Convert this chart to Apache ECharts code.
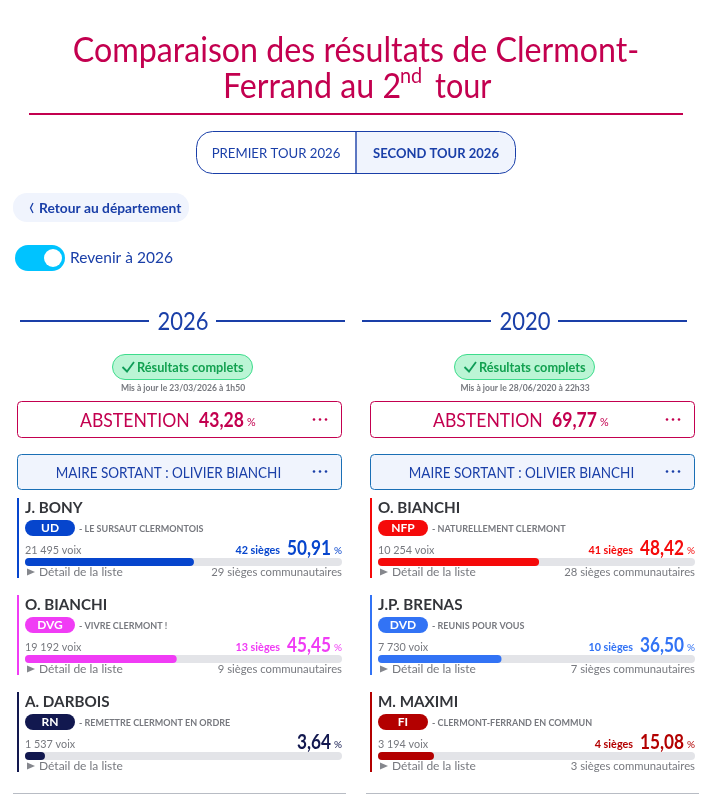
<!DOCTYPE html>
<html lang="fr"><head><meta charset="utf-8">
<style>html,body{margin:0;padding:0;background:#fff;overflow:hidden}#c{width:712px;height:794px}</style>
<script src="https://cdn.jsdelivr.net/npm/echarts@6/dist/echarts.min.js"></script>
</head><body><div id="c"></div>
<script>
const years = ['2026', '2020'];
const updated = ['Mis à jour le 23/03/2026 à 1h50', 'Mis à jour le 28/06/2020 à 22h33'];
const abstention = ['43,28', '69,77'];
const outgoing = 'MAIRE SORTANT : OLIVIER BIANCHI';
const names2026 = ['J. BONY', 'O. BIANCHI', 'A. DARBOIS'];
const names2020 = ['O. BIANCHI', 'J.P. BRENAS', 'M. MAXIMI'];
const parties2026 = ['UD', 'DVG', 'RN'];
const parties2020 = ['NFP', 'DVD', 'FI'];
const lists2026 = ['- LE SURSAUT CLERMONTOIS', '- VIVRE CLERMONT !', '- REMETTRE CLERMONT EN ORDRE'];
const lists2020 = ['- NATURELLEMENT CLERMONT', '- REUNIS POUR VOUS', '- CLERMONT-FERRAND EN COMMUN'];
const votes2026 = ['21 495', '19 192', '1 537'];
const votes2020 = ['10 254', '7 730', '3 194'];
const pct2026 = [50.91, 45.45, 3.64];
const pct2020 = [48.42, 36.50, 15.08];
const seats2026 = [42, 13, null];
const seats2020 = [41, 10, 4];
const metro2026 = [29, 9, null];
const metro2020 = [28, 7, 3];
const colors2026 = ['#0645cd', '#f03cf5', '#12184f'];
const colors2020 = ['#f50a0a', '#3273f5', '#b30000'];

const FONT = 'Lato';
const CRIM = '#c3004f', BLUE = '#1a3fa8', PALE = '#f0f4fd', GREY = '#77797f';
const g = [];
const T = (x, y, text, size, fill, opt = {}) => g.push({type: 'text', x, y, silent: true, scaleX: opt.sx || 1, style: {
  text, fontFamily: FONT, fontSize: size, fill, fontWeight: opt.w || 'normal',
  align: opt.a || 'left', verticalAlign: 'middle'}});
const R = (x, y, w, h, r, fill, stroke, lw) => g.push({type: 'rect', silent: true,
  shape: {x, y, width: w, height: h, r}, style: {fill: fill || 'none', stroke: stroke || 'none', lineWidth: lw || 0}});
const dots = (x, y, c) => [0, 6, 12].forEach(d => g.push({type: 'circle', silent: true, shape: {cx: x + d, cy: y, r: 1.3}, style: {fill: c}}));

// header
T(356, 51, 'Comparaison des résultats de Clermont-', 34, CRIM, {a: 'center', sx: 0.947});
T(223, 87, 'Ferrand au 2', 34, CRIM, {sx: 0.947});
T(400, 76, 'nd', 21, CRIM, {sx: 0.947});
T(435, 87, 'tour', 34, CRIM, {sx: 0.9});
R(29, 113, 654, 2, 0, CRIM);
// tabs
R(356, 131.5, 159.5, 42, [0, 16, 16, 0], PALE);
R(196.5, 131.5, 319, 42, 16, null, BLUE, 1);
g.push({type: 'line', silent: true, shape: {x1: 356, y1: 131.5, x2: 356, y2: 173.5}, style: {stroke: BLUE, lineWidth: 1.4}});
T(276, 153, 'PREMIER TOUR 2026', 14, BLUE, {a: 'center', sx: 0.94});
T(436, 153, 'SECOND TOUR 2026', 14, BLUE, {a: 'center', w: 'bold', sx: 0.93});
// back + toggle
R(13, 193, 176, 29, 14, PALE);
g.push({type: 'polyline', silent: true, shape: {points: [[33, 203], [30.5, 208], [33, 213]]}, style: {stroke: BLUE, lineWidth: 1.3, fill: 'none'}});
T(39, 208.5, 'Retour au département', 14, BLUE, {w: 'bold', sx: 0.985});
R(15, 245, 50, 26, 13, '#00c3ff');
g.push({type: 'circle', silent: true, shape: {cx: 53, cy: 258, r: 9}, style: {fill: '#fff'}});
T(70, 258, 'Revenir à 2026', 16, BLUE, {sx: 0.97});

// columns
const cols = [
  {ox: 0, hx: 0, n: names2026, p: parties2026, l: lists2026, v: votes2026, s: seats2026, m: metro2026, pc: pct2026, c: colors2026},
  {ox: 353, hx: 342, n: names2020, p: parties2020, l: lists2020, v: votes2020, s: seats2020, m: metro2020, pc: pct2020, c: colors2020}
];
const fmt = v => v.toFixed(2).replace('.', ',');
cols.forEach((c, i) => {
  const h = c.hx, o = c.ox;
  R(20 + h, 320, 129, 2, 0, BLUE);
  R(216 + h, 320, 129, 2, 0, BLUE);
  T(183 + h, 321.5, years[i], 25, BLUE, {a: 'center', sx: 0.88});
  R(112.5 + h, 354.5, 140, 25, 12.5, '#bbf5d5', '#3ddc8c', 1);
  g.push({type: 'polyline', silent: true, shape: {points: [[122.5 + h, 367], [127 + h, 371.5], [134 + h, 362]]}, style: {stroke: '#0f9d58', lineWidth: 1.8, fill: 'none'}});
  T(137 + h, 368, 'Résultats complets', 13, '#12a150', {w: 'bold', sx: 0.98});
  T(183 + h, 388, updated[i], 9, GREY, {a: 'center', w: 'bold', sx: 0.95});
  R(17.5 + o, 401.5, 324, 36, 4, '#fff', CRIM, 1);
  T(80 + o, 421, 'ABSTENTION', 20, CRIM, {sx: 0.88});
  T(199 + o, 421, abstention[i], 20, CRIM, {w: 'bold', sx: 0.88});
  T(247 + o, 422, '%', 12, CRIM, {sx: 0.9});
  dots(314 + o, 419.5, CRIM);
  R(17.5 + o, 454.5, 324, 35, 4, PALE, '#1a6fb5', 1);
  T(168.5 + o, 473, outgoing, 15, BLUE, {a: 'center', sx: 0.9});
  dots(314 + o, 471.5, BLUE);
  c.n.forEach((name, k) => {
    const d = 97 * k, col = c.c[k];
    R(17 + o, 498 + d, 2, 80, 0, col);
    T(25 + o, 507.5 + d, name, 16, '#33353a', {w: 'bold', sx: 0.95});
    R(25 + o, 520 + d, 50, 16, 8, col);
    T(50 + o, 528 + d, c.p[k], 12, '#fff', {a: 'center', w: 'bold'});
    T(79 + o, 528.5 + d, c.l[k], 10, GREY, {w: 'bold', sx: 0.9});
    T(25 + o, 550.5 + d, c.v[k] + ' voix', 12, GREY, {sx: 0.9});
    if (c.s[k] != null) T(280 + o, 550.5 + d, c.s[k] + ' sièges', 12, col, {a: 'right', w: 'bold', sx: 0.9});
    T(331 + o, 548 + d, fmt(c.pc[k]), 21, col, {a: 'right', w: 'bold', sx: 0.82});
    T(342 + o, 550.5 + d, '%', 10, col, {a: 'right'});
    g.push({type: 'polygon', silent: true, shape: {points: [[27 + o, 568.5 + d], [35 + o, 572 + d], [27 + o, 575.5 + d]]}, style: {fill: '#85878d'}});
    T(39 + o, 572.5 + d, 'Détail de la liste', 12, GREY);
    if (c.m[k] != null) T(342 + o, 572.5 + d, c.m[k] + ' sièges communautaires', 12, GREY, {a: 'right', sx: 0.94});
  });
  R(13 + (i ? 353 : 0), 793, 333, 1, 0, '#b8bcc4');
});

const option = {
  animation: false,
  grid: cols.map(c => ({left: 25 + c.ox, width: 317, top: 513.5, height: 291, outerBoundsMode: 'none'})),
  xAxis: cols.map((c, i) => ({type: 'value', gridIndex: i, min: -2.7, max: 97.9, startValue: -2.7, show: false})),
  yAxis: cols.map((c, i) => ({type: 'category', gridIndex: i, inverse: true, data: c.n, show: false})),
  series: cols.map((c, i) => ({
    type: 'bar', xAxisIndex: i, yAxisIndex: i, barWidth: 8, silent: true,
    showBackground: true, backgroundStyle: {color: '#e3e4e8', borderRadius: 4},
    itemStyle: {borderRadius: 4},
    data: c.pc.map((v, k) => ({value: v, itemStyle: {color: c.c[k]}}))
  })),
  graphic: {elements: g}
};
echarts.init(document.getElementById('c'), null, {renderer: 'canvas'}).setOption(option);
</script></body></html>
